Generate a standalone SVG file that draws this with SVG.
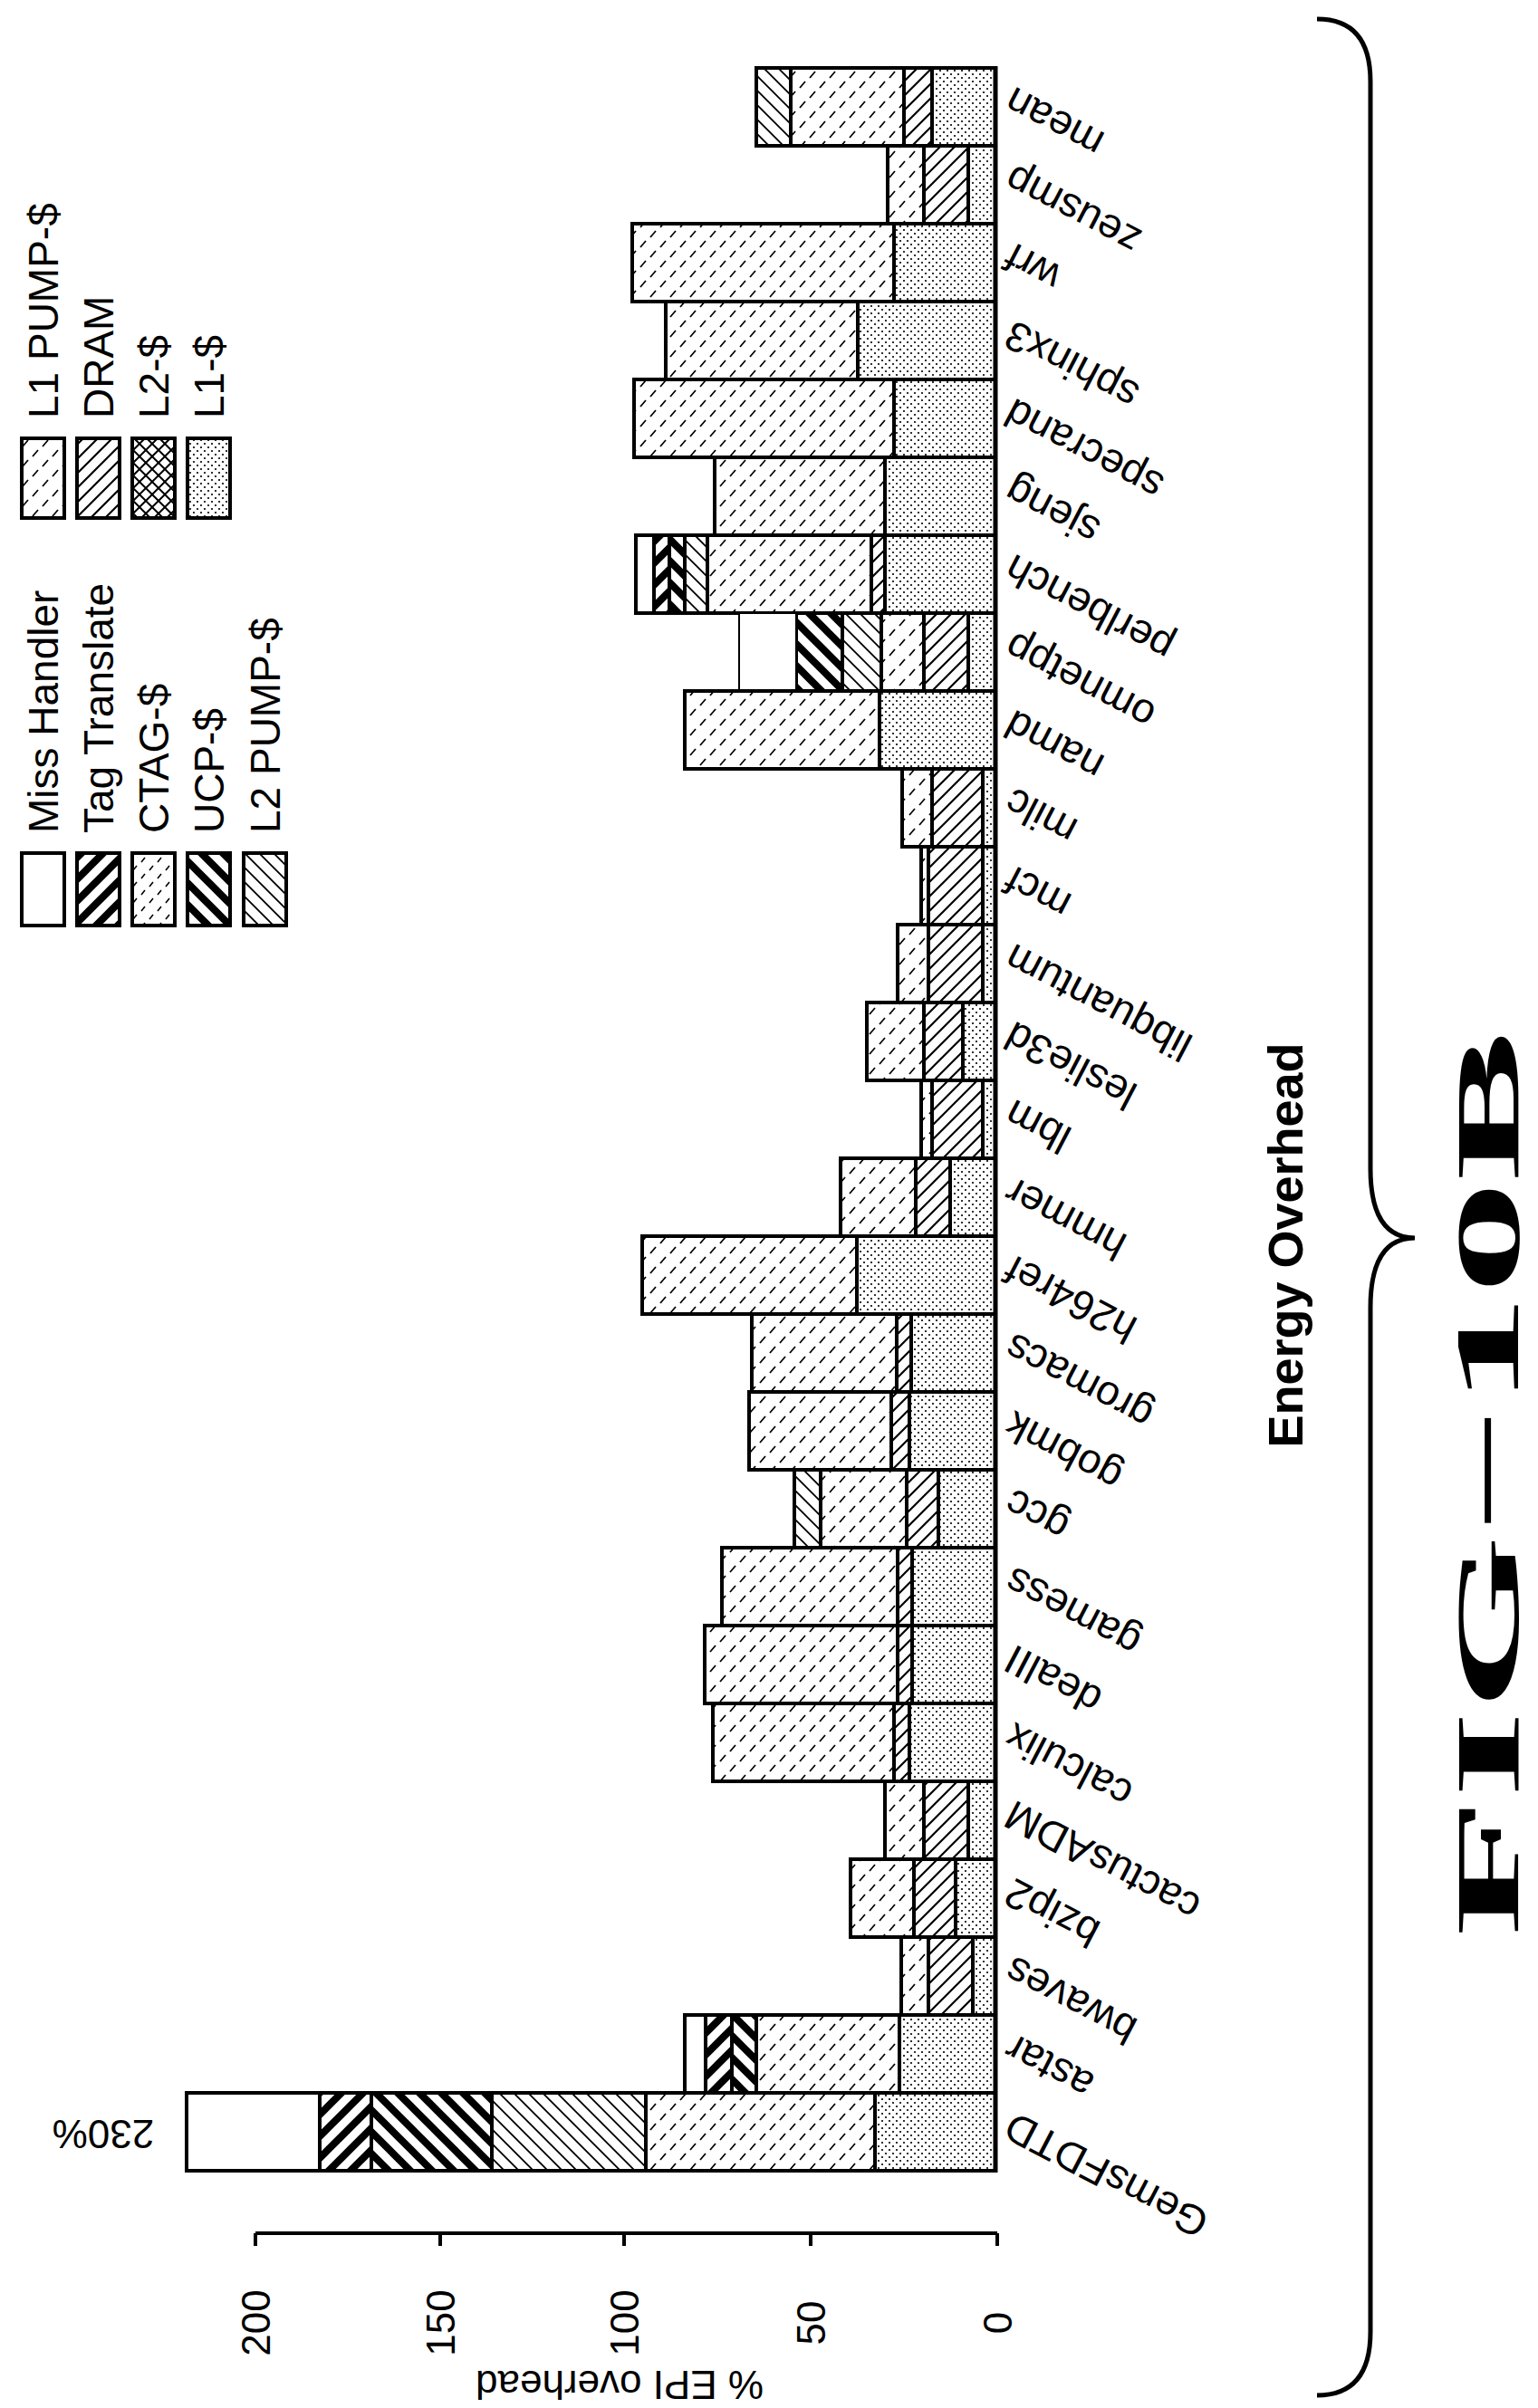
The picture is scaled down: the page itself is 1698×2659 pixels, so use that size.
<svg xmlns="http://www.w3.org/2000/svg" width="1698" height="2659" viewBox="0 0 1698 2659">
<style>
.s{stroke:#000;stroke-width:4}
.d{fill:url(#dots)}.r{fill:url(#dram)}.p{fill:url(#dash)}.c{fill:url(#dash2)}.q{fill:url(#bs)}.u{fill:url(#ucp)}.t{fill:url(#tag)}.w{fill:#fff}.x{fill:url(#cross)}
text{font-family:"Liberation Sans",Arial,sans-serif;fill:#000}
.lb{font-size:46px}
.lg{font-size:46px}
</style>
<defs>
<pattern id="dots" width="8" height="8" patternUnits="userSpaceOnUse"><rect width="8" height="8" fill="#fff"/><circle cx="2" cy="2" r="1.1"/><circle cx="6" cy="6" r="1.1"/></pattern>
<pattern id="dram" width="16" height="16" patternUnits="userSpaceOnUse"><rect width="16" height="16" fill="#fff"/><path d="M-4,4 L4,-4 M0,16 L16,0 M12,20 L20,12" stroke="#000" stroke-width="2.2"/></pattern>
<pattern id="bs" width="16" height="16" patternUnits="userSpaceOnUse"><rect width="16" height="16" fill="#fff"/><path d="M-4,12 L4,20 M0,0 L16,16 M12,-4 L20,4" stroke="#000" stroke-width="1.8"/></pattern>
<pattern id="ucp" width="24" height="24" patternUnits="userSpaceOnUse"><rect width="24" height="24" fill="#fff"/><path d="M-6,18 L6,30 M0,0 L24,24 M18,-6 L30,6" stroke="#000" stroke-width="8"/></pattern>
<pattern id="tag" width="24" height="24" patternUnits="userSpaceOnUse"><rect width="24" height="24" fill="#fff"/><path d="M-6,6 L6,-6 M0,24 L24,0 M18,30 L30,18" stroke="#000" stroke-width="8"/></pattern>
<pattern id="dash" width="22" height="22" patternUnits="userSpaceOnUse"><rect width="22" height="22" fill="#fff"/><path d="M3,9 L9,2 M14,20 L20,13" stroke="#000" stroke-width="1.8"/></pattern>
<pattern id="dash2" width="18" height="18" patternUnits="userSpaceOnUse"><rect width="18" height="18" fill="#fff"/><path d="M3,7 L7,2 M12,16 L16,11" stroke="#000" stroke-width="1.6"/></pattern>
<pattern id="cross" width="14" height="14" patternUnits="userSpaceOnUse"><rect width="14" height="14" fill="#fff"/><path d="M0,0 L14,14 M14,0 L0,14" stroke="#000" stroke-width="2"/></pattern>
</defs>
<rect width="1698" height="2659" fill="#fff"/>

<g id="legend">
<g id="leg-miss"><rect class="s w" x="24" y="942" width="47" height="80"/><text class="lg" transform="translate(64,920) rotate(-90)">Miss Handler</text></g>
<g id="leg-tag"><rect class="s t" x="85" y="942" width="47" height="80"/><text class="lg" transform="translate(125,920) rotate(-90)">Tag Translate</text></g>
<g id="leg-ctag"><rect class="s c" x="146" y="942" width="47" height="80"/><text class="lg" transform="translate(186,920) rotate(-90)">CTAG-$</text></g>
<g id="leg-ucp"><rect class="s u" x="207" y="942" width="47" height="80"/><text class="lg" transform="translate(247,920) rotate(-90)">UCP-$</text></g>
<g id="leg-l2pump"><rect class="s q" x="269" y="942" width="47" height="80"/><text class="lg" transform="translate(309,920) rotate(-90)">L2 PUMP-$</text></g>
<g id="leg-l1pump"><rect class="s p" x="24" y="484" width="47" height="88"/><text class="lg" transform="translate(64,462) rotate(-90)">L1 PUMP-$</text></g>
<g id="leg-dram"><rect class="s r" x="85" y="484" width="47" height="88"/><text class="lg" transform="translate(125,462) rotate(-90)">DRAM</text></g>
<g id="leg-l2"><rect class="s x" x="146" y="484" width="47" height="88"/><text class="lg" transform="translate(186,462) rotate(-90)">L2-$</text></g>
<g id="leg-l1"><rect class="s d" x="207" y="484" width="47" height="88"/><text class="lg" transform="translate(247,462) rotate(-90)">L1-$</text></g>
</g>

<g id="bars">
<g id="b-mean"><rect class="s d" x="1029" y="75" width="70" height="86"/><rect class="s r" x="998" y="75" width="31" height="86"/><rect class="s p" x="873" y="75" width="125" height="86"/><rect class="s q" x="835" y="75" width="38" height="86"/></g>
<g id="b-zeusmp"><rect class="s d" x="1069" y="161" width="30" height="86"/><rect class="s r" x="1020" y="161" width="49" height="86"/><rect class="s p" x="980" y="161" width="40" height="86"/></g>
<g id="b-wrf"><rect class="s d" x="987" y="247" width="112" height="86"/><rect class="s p" x="698" y="247" width="289" height="86"/></g>
<g id="b-sphinx3"><rect class="s d" x="947" y="333" width="152" height="86"/><rect class="s p" x="735" y="333" width="212" height="86"/></g>
<g id="b-specrand"><rect class="s d" x="987" y="419" width="112" height="86"/><rect class="s p" x="700" y="419" width="287" height="86"/></g>
<g id="b-sjeng"><rect class="s d" x="977" y="505" width="122" height="86"/><rect class="s p" x="789" y="505" width="188" height="86"/></g>
<g id="b-perlbench"><rect class="s d" x="977" y="591" width="122" height="86"/><rect class="s r" x="962" y="591" width="15" height="86"/><rect class="s p" x="781" y="591" width="181" height="86"/><rect class="s q" x="756" y="591" width="25" height="86"/><rect class="s u" x="739" y="591" width="17" height="86"/><rect class="s t" x="722" y="591" width="17" height="86"/><rect class="s w" x="702" y="591" width="20" height="86"/></g>
<g id="b-omnetpp"><rect class="s d" x="1069" y="677" width="30" height="86"/><rect class="s r" x="1020" y="677" width="49" height="86"/><rect class="s p" x="973" y="677" width="47" height="86"/><rect class="s q" x="930" y="677" width="43" height="86"/><rect class="s u" x="879" y="677" width="51" height="86"/><rect class="s w" x="816" y="677" width="63" height="86" style="stroke-width:2"/></g>
<g id="b-namd"><rect class="s d" x="971" y="763" width="128" height="86"/><rect class="s p" x="756" y="763" width="215" height="86"/></g>
<g id="b-milc"><rect class="s d" x="1085" y="849" width="14" height="86"/><rect class="s r" x="1029" y="849" width="56" height="86"/><rect class="s p" x="996" y="849" width="33" height="86"/></g>
<g id="b-mcf"><rect class="s d" x="1085" y="935" width="14" height="86"/><rect class="s r" x="1025" y="935" width="60" height="86"/><rect class="s p" x="1017" y="935" width="8" height="86"/></g>
<g id="b-libquantum"><rect class="s d" x="1085" y="1021" width="14" height="86"/><rect class="s r" x="1025" y="1021" width="60" height="86"/><rect class="s p" x="991" y="1021" width="34" height="86"/></g>
<g id="b-leslie3d"><rect class="s d" x="1063" y="1107" width="36" height="86"/><rect class="s r" x="1020" y="1107" width="43" height="86"/><rect class="s p" x="957" y="1107" width="63" height="86"/></g>
<g id="b-lbm"><rect class="s d" x="1085" y="1193" width="14" height="86"/><rect class="s r" x="1029" y="1193" width="56" height="86"/><rect class="s p" x="1017" y="1193" width="12" height="86"/></g>
<g id="b-hmmer"><rect class="s d" x="1049" y="1279" width="50" height="86"/><rect class="s r" x="1011" y="1279" width="38" height="86"/><rect class="s p" x="928" y="1279" width="83" height="86"/></g>
<g id="b-h264ref"><rect class="s d" x="946" y="1365" width="153" height="86"/><rect class="s p" x="709" y="1365" width="237" height="86"/></g>
<g id="b-gromacs"><rect class="s d" x="1006" y="1451" width="93" height="86"/><rect class="s r" x="990" y="1451" width="16" height="86"/><rect class="s p" x="830" y="1451" width="160" height="86"/></g>
<g id="b-gobmk"><rect class="s d" x="1004" y="1537" width="95" height="86"/><rect class="s r" x="984" y="1537" width="20" height="86"/><rect class="s p" x="827" y="1537" width="157" height="86"/></g>
<g id="b-gcc"><rect class="s d" x="1036" y="1623" width="63" height="86"/><rect class="s r" x="1001" y="1623" width="35" height="86"/><rect class="s p" x="906" y="1623" width="95" height="86"/><rect class="s q" x="877" y="1623" width="29" height="86"/></g>
<g id="b-gamess"><rect class="s d" x="1007" y="1709" width="92" height="86"/><rect class="s r" x="991" y="1709" width="16" height="86"/><rect class="s p" x="797" y="1709" width="194" height="86"/></g>
<g id="b-dealII"><rect class="s d" x="1007" y="1795" width="92" height="86"/><rect class="s r" x="991" y="1795" width="16" height="86"/><rect class="s p" x="778" y="1795" width="213" height="86"/></g>
<g id="b-calculix"><rect class="s d" x="1004" y="1881" width="95" height="86"/><rect class="s r" x="987" y="1881" width="17" height="86"/><rect class="s p" x="787" y="1881" width="200" height="86"/></g>
<g id="b-cactusADM"><rect class="s d" x="1069" y="1967" width="30" height="86"/><rect class="s r" x="1020" y="1967" width="49" height="86"/><rect class="s p" x="977" y="1967" width="43" height="86"/></g>
<g id="b-bzip2"><rect class="s d" x="1055" y="2053" width="44" height="86"/><rect class="s r" x="1009" y="2053" width="46" height="86"/><rect class="s p" x="939" y="2053" width="70" height="86"/></g>
<g id="b-bwaves"><rect class="s d" x="1074" y="2139" width="25" height="86"/><rect class="s r" x="1025" y="2139" width="49" height="86"/><rect class="s p" x="995" y="2139" width="30" height="86"/></g>
<g id="b-astar"><rect class="s d" x="993" y="2225" width="106" height="86"/><rect class="s p" x="835" y="2225" width="158" height="86"/><rect class="s u" x="808" y="2225" width="27" height="86"/><rect class="s t" x="779" y="2225" width="29" height="86"/><rect class="s w" x="756" y="2225" width="23" height="86"/></g>
<g id="b-GemsFDTD"><rect class="s d" x="966" y="2311" width="133" height="86"/><rect class="s p" x="713" y="2311" width="253" height="86"/><rect class="s q" x="543" y="2311" width="170" height="86"/><rect class="s u" x="410" y="2311" width="133" height="86"/><rect class="s t" x="353" y="2311" width="57" height="86"/><rect class="s w" x="206" y="2311" width="147" height="86"/></g>
<line x1="1099" y1="73" x2="1099" y2="2399" stroke="#000" stroke-width="5"/>
</g>

<g id="labels" class="lb">
<text text-anchor="end" transform="translate(1120,95) rotate(207.6)">mean</text>
<text text-anchor="end" transform="translate(1120,181) rotate(207.6)">zeusmp</text>
<text text-anchor="end" transform="translate(1120,267) rotate(207.6)">wrf</text>
<text text-anchor="end" transform="translate(1120,353) rotate(207.6)">sphinx3</text>
<text text-anchor="end" transform="translate(1120,439) rotate(207.6)">specrand</text>
<text text-anchor="end" transform="translate(1120,525) rotate(207.6)">sjeng</text>
<text text-anchor="end" transform="translate(1120,611) rotate(207.6)">perlbench</text>
<text text-anchor="end" transform="translate(1120,697) rotate(207.6)">omnetpp</text>
<text text-anchor="end" transform="translate(1120,783) rotate(207.6)">namd</text>
<text text-anchor="end" transform="translate(1120,869) rotate(207.6)">milc</text>
<text text-anchor="end" transform="translate(1120,955) rotate(207.6)">mcf</text>
<text text-anchor="end" transform="translate(1120,1041) rotate(207.6)">libquantum</text>
<text text-anchor="end" transform="translate(1120,1127) rotate(207.6)">leslie3d</text>
<text text-anchor="end" transform="translate(1120,1213) rotate(207.6)">lbm</text>
<text text-anchor="end" transform="translate(1120,1299) rotate(207.6)">hmmer</text>
<text text-anchor="end" transform="translate(1120,1385) rotate(207.6)">h264ref</text>
<text text-anchor="end" transform="translate(1120,1471) rotate(207.6)">gromacs</text>
<text text-anchor="end" transform="translate(1120,1557) rotate(207.6)">gobmk</text>
<text text-anchor="end" transform="translate(1120,1643) rotate(207.6)">gcc</text>
<text text-anchor="end" transform="translate(1120,1729) rotate(207.6)">gamess</text>
<text text-anchor="end" transform="translate(1120,1815) rotate(207.6)">dealII</text>
<text text-anchor="end" transform="translate(1120,1901) rotate(207.6)">calculix</text>
<text text-anchor="end" transform="translate(1120,1987) rotate(207.6)">cactusADM</text>
<text text-anchor="end" transform="translate(1120,2073) rotate(207.6)">bzip2</text>
<text text-anchor="end" transform="translate(1120,2159) rotate(207.6)">bwaves</text>
<text text-anchor="end" transform="translate(1120,2245) rotate(207.6)">astar</text>
<text text-anchor="end" transform="translate(1120,2331) rotate(207.6)">GemsFDTD</text>
</g>

<g id="axis">
<path d="M282,2466 H1101 M282,2466 v14 M486,2466 v14 M689,2466 v14 M895,2466 v14 M1101,2466 v14" stroke="#000" stroke-width="4" fill="none"/>
<g font-size="44" text-anchor="middle">
<text transform="translate(298,2565) rotate(-90)">200</text>
<text transform="translate(502,2565) rotate(-90)">150</text>
<text transform="translate(705,2565) rotate(-90)">100</text>
<text transform="translate(911,2565) rotate(-90)">50</text>
<text transform="translate(1117,2565) rotate(-90)">0</text>
<text transform="translate(684,2618) rotate(180)">% EPI overhead</text>
<text transform="translate(114,2341) rotate(180)">230%</text>
</g>
</g>

<g id="brace"><path d="M1454,21 Q1513,21 1513,90 L1513,1290 Q1513,1367 1562,1367 Q1513,1367 1513,1444 L1513,2575 Q1513,2645 1454,2645" fill="none" stroke="#000" stroke-width="5"/></g>
<text transform="translate(1438,1375) rotate(-90)" text-anchor="middle" font-size="54" font-weight="bold">Energy Overhead</text>
<text transform="translate(1676,1638) rotate(-90)" text-anchor="middle" font-size="100" font-weight="bold" style="font-family:'Liberation Serif','Times New Roman',serif" textLength="1000" lengthAdjust="spacingAndGlyphs">FIG−10B</text>
</svg>
